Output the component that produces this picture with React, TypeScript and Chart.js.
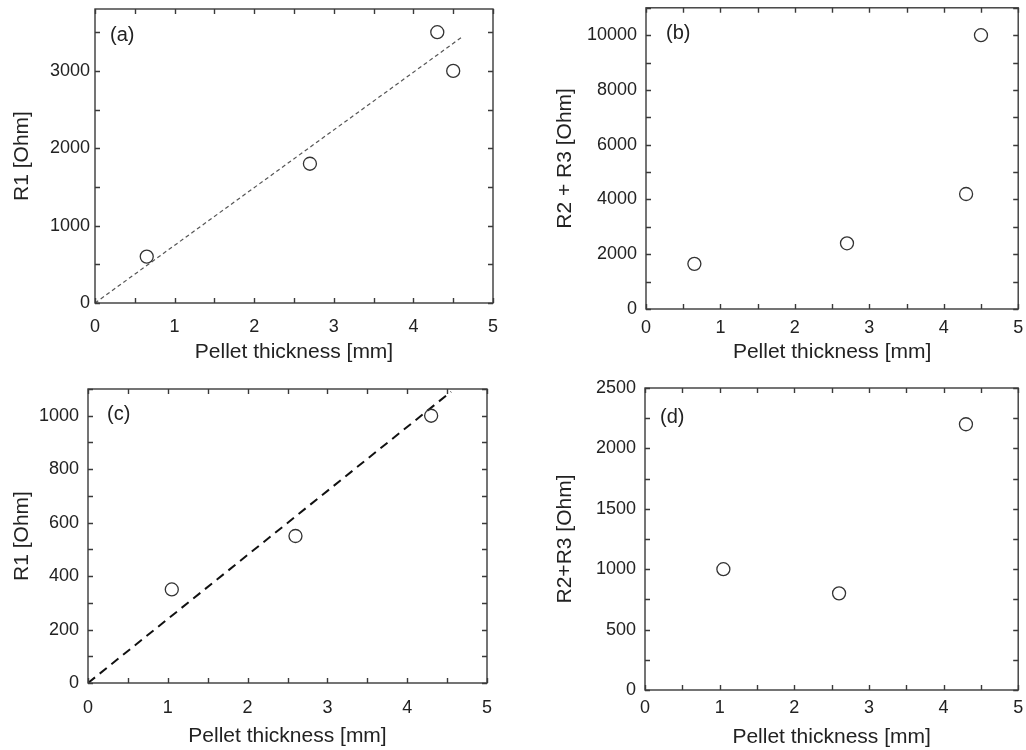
import React, { useEffect, useRef } from "react";
import { Chart, registerables } from "chart.js";
Chart.register(...registerables);

// ---- data ----
const xTickValues = [0, 1, 2, 3, 4, 5];
const xLabel = "Pellet thickness [mm]";

const aX = [0.65, 2.7, 4.3, 4.5];
const aY = [600, 1800, 3500, 3000];
const aFitX = [0, 4.6];
const aFitY = [0, 3430];
const aYTicks = [0, 1000, 2000, 3000];

const bX = [0.65, 2.7, 4.3, 4.5];
const bY = [1650, 2400, 4200, 10000];
const bYTicks = [0, 2000, 4000, 6000, 8000, 10000];

const cX = [1.05, 2.6, 4.3];
const cY = [350, 550, 1000];
const cFitX = [0, 4.55];
const cFitY = [0, 1090];
const cYTicks = [0, 200, 400, 600, 800, 1000];

const dX = [1.05, 2.6, 4.3];
const dY = [1000, 800, 2200];
const dYTicks = [0, 500, 1000, 1500, 2000, 2500];

const FONT = "'Liberation Sans', Arial, Helvetica, sans-serif";
const TEXT = "#222";
const AXIS = "#3a3a3a";

type Panel = {
  left: number; top: number;
  label: string; yTitle: string;
  yMax: number; yTicks: number[]; yMinor: number;
  xs: number[]; ys: number[];
  fitX?: number[]; fitY?: number[];
  fitStyle?: { color: string; width: number; dash: number[] };
  padTop: number; padRight: number;
  yAxisW: number; xAxisH: number;
  yTickPad: number; xTickPad: number;
  yTitlePad: number; xTitlePad: number;
  labelDx: number; labelDy: number;
};

const W = 513, H = 375;

const panels: Panel[] = [
  {
    left: 0, top: 0, label: "(a)", yTitle: "R1 [Ohm]",
    yMax: 3800, yTicks: aYTicks, yMinor: 500, xs: aX, ys: aY,
    fitX: aFitX, fitY: aFitY, fitStyle: { color: "#555", width: 1.2, dash: [4, 3] },
    padTop: 9, padRight: 20, yAxisW: 95, xAxisH: 72,
    yTickPad: 5, xTickPad: 13, yTitlePad: 9.4, xTitlePad: 10.4,
    labelDx: 15, labelDy: 26,
  },
  {
    left: 513, top: 0, label: "(b)", yTitle: "R2 + R3 [Ohm]",
    yMax: 11000, yTicks: bYTicks, yMinor: 1000, xs: bX, ys: bY,
    padTop: 7, padRight: 4, yAxisW: 133, xAxisH: 66,
    yTickPad: 9, xTickPad: 8, yTitlePad: 39.4, xTitlePad: 10.4,
    labelDx: 20, labelDy: 26,
  },
  {
    left: 0, top: 375, label: "(c)", yTitle: "R1 [Ohm]",
    yMax: 1100, yTicks: cYTicks, yMinor: 100, xs: cX, ys: cY,
    fitX: cFitX, fitY: cFitY, fitStyle: { color: "#111", width: 2, dash: [9, 6] },
    padTop: 14, padRight: 26, yAxisW: 88, xAxisH: 67,
    yTickPad: 9, xTickPad: 14, yTitlePad: 9.4, xTitlePad: 1.4,
    labelDx: 19, labelDy: 25,
  },
  {
    left: 513, top: 375, label: "(d)", yTitle: "R2+R3 [Ohm]",
    yMax: 2500, yTicks: dYTicks, yMinor: 250, xs: dX, ys: dY,
    padTop: 13, padRight: 6, yAxisW: 132, xAxisH: 60,
    yTickPad: 9, xTickPad: 7, yTitlePad: 39.4, xTitlePad: 0.4,
    labelDx: 15, labelDy: 29,
  },
];

const framePlugin = {
  id: "frame",
  afterDatasetsDraw(chart: any, _args: any, opts: any) {
    const { ctx, chartArea } = chart;
    const { left, right, top, bottom } = chartArea;
    const xs = chart.scales.x, ys = chart.scales.y;
    ctx.save();
    ctx.strokeStyle = AXIS;
    ctx.lineWidth = 1.4;
    ctx.strokeRect(left, top, right - left, bottom - top);
    const L = 5;
    ctx.beginPath();
    for (let v = xs.min; v <= xs.max + 1e-9; v += opts.xMinor) {
      const p = Math.round(xs.getPixelForValue(v)) + 0.5;
      ctx.moveTo(p, bottom); ctx.lineTo(p, bottom - L);
      ctx.moveTo(p, top); ctx.lineTo(p, top + L);
    }
    for (let v = ys.min; v <= ys.max + 1e-9; v += opts.yMinor) {
      const p = Math.round(ys.getPixelForValue(v)) + 0.5;
      ctx.moveTo(left, p); ctx.lineTo(left + L, p);
      ctx.moveTo(right, p); ctx.lineTo(right - L, p);
    }
    ctx.stroke();
    ctx.fillStyle = TEXT;
    ctx.font = `20px ${FONT}`;
    ctx.textAlign = "left";
    ctx.textBaseline = "middle";
    ctx.fillText(opts.label, left + opts.labelDx, top + opts.labelDy);
    ctx.restore();
  },
};

function PanelChart({ p }: { p: Panel }) {
  const ref = useRef<HTMLCanvasElement | null>(null);
  useEffect(() => {
    if (!ref.current) return;
    const datasets: any[] = [
      {
        label: "data",
        data: p.xs.map((x, i) => ({ x, y: p.ys[i] })),
        pointStyle: "circle",
        pointRadius: 6.5,
        pointBorderWidth: 1.3,
        pointBorderColor: "#333",
        pointBackgroundColor: "rgba(255,255,255,0)",
        showLine: false,
        order: 1,
      },
    ];
    if (p.fitX && p.fitY && p.fitStyle) {
      datasets.push({
        label: "fit",
        data: p.fitX.map((x, i) => ({ x, y: p.fitY![i] })),
        showLine: true,
        pointRadius: 0,
        borderColor: p.fitStyle.color,
        borderWidth: p.fitStyle.width,
        borderDash: p.fitStyle.dash,
        fill: false,
        order: 2,
      });
    }
    const chart = new Chart(ref.current, {
      type: "scatter",
      data: { datasets },
      plugins: [framePlugin],
      options: {
        animation: false,
        responsive: false,
        maintainAspectRatio: false,
        layout: { padding: { top: p.padTop, right: p.padRight, left: 0, bottom: 0 } },
        plugins: {
          legend: { display: false },
          tooltip: { enabled: false },
          frame: { xMinor: 0.5, yMinor: p.yMinor, label: p.label, labelDx: p.labelDx, labelDy: p.labelDy },
        } as any,
        scales: {
          x: {
            type: "linear",
            min: 0, max: 5,
            grid: { display: false, drawTicks: false },
            border: { display: false },
            afterBuildTicks: (s: any) => { s.ticks = xTickValues.map((v) => ({ value: v })); },
            ticks: { color: TEXT, font: { family: FONT, size: 18 }, padding: p.xTickPad, maxRotation: 0, autoSkip: false, callback: (v: any) => String(v) },
            title: { display: true, text: xLabel, color: TEXT, font: { family: FONT, size: 21 }, padding: { top: 0, bottom: p.xTitlePad } },
            afterFit: (s: any) => { s.height = p.xAxisH; s.paddingLeft = 0; s.paddingRight = 0; },
          },
          y: {
            type: "linear",
            min: 0, max: p.yMax,
            grid: { display: false, drawTicks: false },
            border: { display: false },
            afterBuildTicks: (s: any) => { s.ticks = p.yTicks.map((v) => ({ value: v })); },
            ticks: { color: TEXT, font: { family: FONT, size: 18 }, padding: p.yTickPad, autoSkip: false, callback: (v: any) => String(v) },
            title: { display: true, text: p.yTitle, color: TEXT, font: { family: FONT, size: 21 }, padding: { top: p.yTitlePad, bottom: 0 } },
            afterFit: (s: any) => { s.width = p.yAxisW; s.paddingTop = 0; s.paddingBottom = 0; },
          },
        },
      } as any,
    });
    return () => chart.destroy();
  }, [p]);
  return (
    <canvas
      ref={ref}
      width={W}
      height={H}
      style={{ position: "absolute", left: p.left, top: p.top, width: W, height: H, display: "block" }}
    />
  );
}

export default function App() {
  return (
    <div style={{ position: "fixed", left: 0, top: 0, width: 1026, height: 750, background: "#fff", overflow: "hidden" }}>
      {panels.map((p) => (
        <PanelChart key={p.label} p={p} />
      ))}
    </div>
  );
}
